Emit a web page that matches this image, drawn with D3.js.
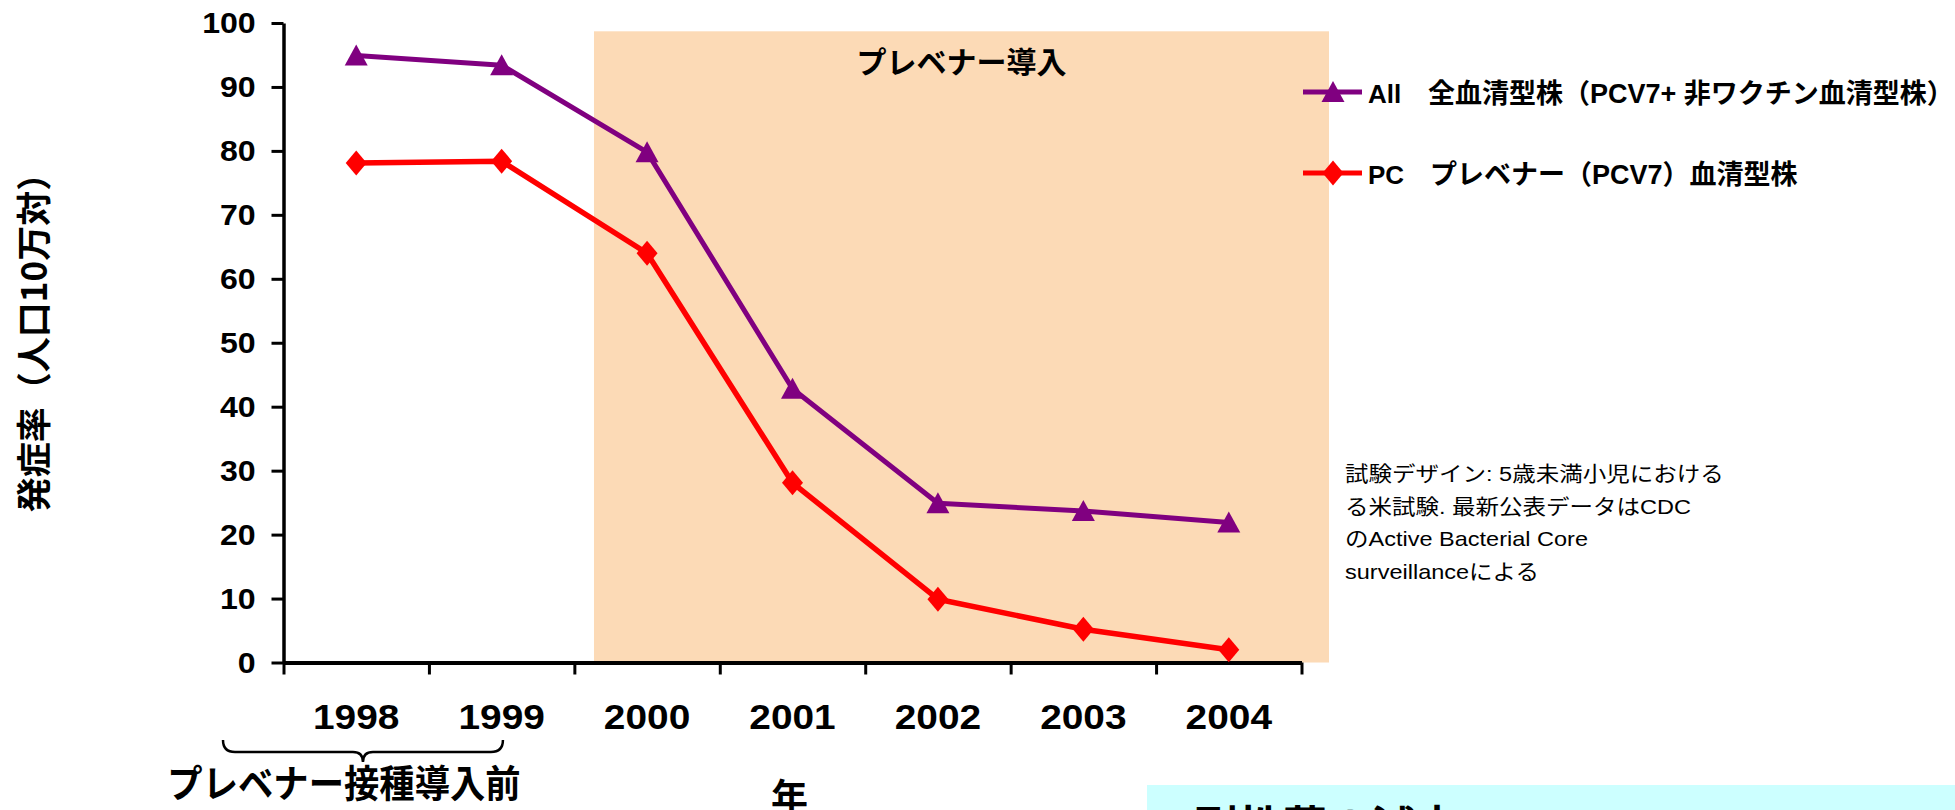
<!DOCTYPE html>
<html>
<head>
<meta charset="utf-8">
<script src="https://cdn.jsdelivr.net/npm/d3@7"></script>
<style>
  html, body { margin: 0; padding: 0; background: #ffffff; }
  svg { display: block; }
</style>
</head>
<body>
<svg id="chart" width="1955" height="810"></svg>
<script>
// ---------------- data ----------------
const years = ["1998", "1999", "2000", "2001", "2002", "2003", "2004"];
const allSerotypes = [94.9, 93.4, 79.8, 42.8, 24.9, 23.7, 21.9];   // All 全血清型株
const pcv7Serotypes = [78.1, 78.4, 64.0, 28.1, 9.9, 5.2, 2.0];      // PC プレベナー(PCV7)血清型株
const yTickValues = [0, 10, 20, 30, 40, 50, 60, 70, 80, 90, 100];
const seriesCodes = ["All", "PC"];
const seriesLabels = ["全血清型株（PCV7+ 非ワクチン血清型株）", "プレベナー（PCV7）血清型株"];
const yTitle = "発症率（人口10万対）";
const xTitle = "年";
const shadeTitle = "プレベナー導入";
const bracketLabel = "プレベナー接種導入前";
const noteLines = ["試験デザイン: 5歳未満小児における", "る米試験. 最新公表データはCDC", "のActive Bacterial Core", "surveillanceによる"];
const footerText = "耐性菌の減少";

// ---------------- layout ----------------
const LATIN = "'Liberation Sans', Arial, 'Noto Sans CJK JP', sans-serif";
const JP = "'Noto Sans CJK JP', 'Liberation Sans', sans-serif";
const plot = { left: 283.5, right: 1301.5, top: 23, bottom: 662.5 };
const purple = "#800080", red = "#FF0000";

const svg = d3.select("#chart");

const x = d3.scaleBand().domain(years).range([plot.left, plot.right]).paddingInner(0).paddingOuter(0);
const bw = x.bandwidth();
const cx = d => x(d) + bw / 2;
const y = d3.scaleLinear().domain([0, 100]).range([plot.bottom, plot.top]);
const xEdge = d3.scaleLinear().domain([0, years.length]).range([plot.left, plot.right]);

// shaded "introduction" region
const shadeX0 = x("2000") + bw * 0.135;
const shadeX1 = plot.right + 27.5;
const shadeTop = 98.7;
svg.append("rect")
  .attr("x", shadeX0).attr("y", y(shadeTop))
  .attr("width", shadeX1 - shadeX0).attr("height", y(0) - y(shadeTop))
  .attr("fill", "#FCDAB6");

svg.append("text")
  .attr("x", (shadeX0 + shadeX1) / 2).attr("y", 73)
  .attr("text-anchor", "middle")
  .attr("font-family", JP).attr("font-weight", "bold").attr("font-size", 30)
  .attr("fill", "#000")
  .text(shadeTitle);

// ---------------- axes ----------------
const yAxis = d3.axisLeft(y).tickValues(yTickValues).tickSize(12).tickSizeOuter(0).tickPadding(14);
const gy = svg.append("g").attr("transform", `translate(${plot.left},0)`).call(yAxis);
gy.select(".domain").attr("stroke", "#000").attr("stroke-width", 3.5);
gy.selectAll(".tick line").attr("stroke", "#000").attr("stroke-width", 3);
gy.selectAll(".tick text")
  .attr("font-family", LATIN).attr("font-weight", "bold").attr("font-size", 30)
  .attr("fill", "#000")
  .attr("transform", "scale(1.07,1)");

const xTickAxis = d3.axisBottom(xEdge).tickValues(d3.range(0, years.length + 1)).tickFormat("").tickSize(12).tickSizeOuter(0);
const gx = svg.append("g").attr("transform", `translate(0,${plot.bottom})`).call(xTickAxis);
gx.select(".domain").attr("stroke", "#000").attr("stroke-width", 4);
gx.selectAll(".tick line").attr("stroke", "#000").attr("stroke-width", 3);

const xLabelAxis = d3.axisBottom(x).tickSize(0).tickPadding(42);
const gxl = svg.append("g").attr("transform", `translate(0,${plot.bottom})`).call(xLabelAxis);
gxl.select(".domain").remove();
gxl.selectAll(".tick text")
  .attr("font-family", LATIN).attr("font-weight", "bold").attr("font-size", 35)
  .attr("fill", "#000")
  .attr("transform", "scale(1.11,1)");

// axis titles
svg.append("text")
  .attr("transform", `translate(31,334) rotate(-90)`)
  .attr("text-anchor", "middle").attr("dominant-baseline", "central")
  .attr("font-family", JP).attr("font-weight", "bold").attr("font-size", 35)
  .attr("fill", "#000")
  .text(yTitle);

svg.append("text")
  .attr("x", (plot.left + plot.right) / 2 - 3).attr("y", 811)
  .attr("text-anchor", "middle")
  .attr("font-family", JP).attr("font-weight", "bold").attr("font-size", 37)
  .attr("fill", "#000")
  .text(xTitle);

// bracket under 1998-1999
const bx0 = x("1998") - 60.5, bx1 = x("1999") + 74, btip = (bx0 + bx1) / 2;
const bTop = 740, bMid = 752, bBot = 762;
svg.append("path")
  .attr("d", `M${bx0},${bTop} Q${bx0},${bMid} ${bx0 + 12},${bMid} L${btip - 10},${bMid} Q${btip},${bMid} ${btip},${bBot} Q${btip},${bMid} ${btip + 10},${bMid} L${bx1 - 12},${bMid} Q${bx1},${bMid} ${bx1},${bTop}`)
  .attr("fill", "none").attr("stroke", "#000").attr("stroke-width", 2.5);

svg.append("text")
  .attr("transform", `translate(${btip - 19},797) scale(0.93,1)`)
  .attr("text-anchor", "middle")
  .attr("font-family", JP).attr("font-weight", "bold").attr("font-size", 38)
  .attr("fill", "#000")
  .text(bracketLabel);

// ---------------- series ----------------
const triPath = "M0,-11 L11.5,10 L-11.5,10 Z";
const diaPath = "M0,-12.5 L10.5,0 L0,12.5 L-10.5,0 Z";

const line = d3.line().x((d, i) => cx(years[i])).y(d => y(d));

svg.append("path").datum(pcv7Serotypes)
  .attr("d", line).attr("fill", "none").attr("stroke", red).attr("stroke-width", 5.5).attr("stroke-linejoin", "round");
svg.append("path").datum(allSerotypes)
  .attr("d", line).attr("fill", "none").attr("stroke", purple).attr("stroke-width", 5).attr("stroke-linejoin", "round");

svg.append("g").selectAll("path").data(pcv7Serotypes).join("path")
  .attr("transform", (d, i) => `translate(${cx(years[i])},${y(d)})`)
  .attr("d", diaPath).attr("fill", red);
svg.append("g").selectAll("path").data(allSerotypes).join("path")
  .attr("transform", (d, i) => `translate(${cx(years[i])},${y(d)})`)
  .attr("d", triPath).attr("fill", purple);

// ---------------- legend ----------------
const legendRows = [
  { code: seriesCodes[0], label: seriesLabels[0], color: purple, marker: triPath, y: 92, labelX: 1428 },
  { code: seriesCodes[1], label: seriesLabels[1], color: red, marker: diaPath, y: 173, labelX: 1430 }
];
const lg = svg.append("g");
legendRows.forEach(r => {
  lg.append("line").attr("x1", 1303).attr("x2", 1362).attr("y1", r.y).attr("y2", r.y)
    .attr("stroke", r.color).attr("stroke-width", 5);
  lg.append("path").attr("transform", `translate(1333,${r.y})`).attr("d", r.marker).attr("fill", r.color);
  lg.append("text").attr("x", 1368).attr("y", r.y + 11)
    .attr("font-family", LATIN).attr("font-weight", "bold").attr("font-size", 26).attr("fill", "#000")
    .text(r.code);
  lg.append("text").attr("x", r.labelX).attr("y", r.y + 11)
    .attr("font-family", LATIN).attr("font-weight", "bold").attr("font-size", 27).attr("fill", "#000")
    .text(r.label);
});

// ---------------- note ----------------
const note = svg.append("g");
noteLines.forEach((t, i) => {
  note.append("text")
    .attr("transform", `translate(1345,${481 + i * 32.6}) scale(1.12,1)`)
    .attr("font-family", LATIN).attr("font-size", 21).attr("fill", "#000")
    .text(t);
});

// ---------------- footer box (cut off at the bottom edge, as in the source) ----------------
svg.append("rect").attr("x", 1147).attr("y", 785).attr("width", 1955 - 1147).attr("height", 30).attr("fill", "#CCFFFF");
svg.append("text").attr("x", 1195).attr("y", 843)
  .attr("font-family", JP).attr("font-weight", "bold").attr("font-size", 44).attr("fill", "#000")
  .text(footerText);
</script>
</body>
</html>
